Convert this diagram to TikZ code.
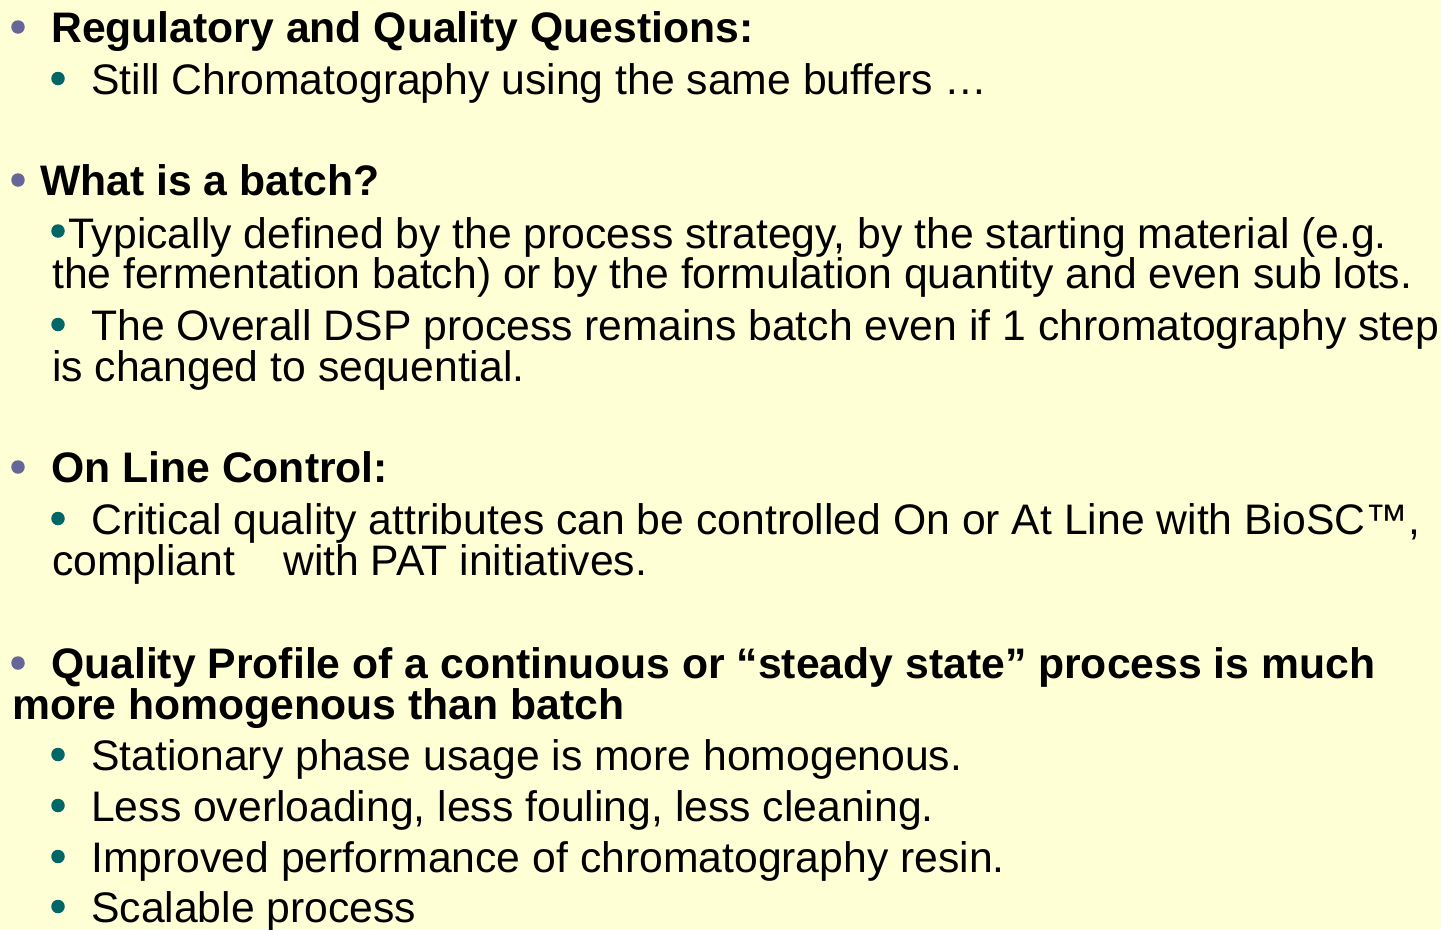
\documentclass[tikz,border=0pt]{standalone}
\usepackage{fontspec}
\setmainfont{Liberation Sans}
\definecolor{bg}{HTML}{FFFFD5}
\definecolor{lvlone}{HTML}{666699}
\definecolor{lvltwo}{HTML}{006666}
\begin{document}
\begin{tikzpicture}[x=1bp,y=-1bp,
  txt/.style={anchor=base west,inner sep=0pt,font=\fontsize{42.7bp}{48bp}\selectfont},
  head/.style={txt,font=\fontsize{42.7bp}{48bp}\selectfont\bfseries},
  dotone/.style={circle,fill=lvlone,inner sep=0pt,minimum size=13.5bp},
  dottwo/.style={circle,fill=lvltwo,inner sep=0pt,minimum size=13.5bp}]
\fill[bg] (0,0) rectangle (1441,929);
\useasboundingbox (0,0) rectangle (1441,929);
% Section 1
\node[dotone] (b1) at (18,27) {};
\node[head] (h1) at (51,42) {Regulatory and Quality Questions:};
\node[dottwo] (b11) at (58,78.5) {};
\node[txt] (t11) at (91,94) {Still Chromatography using the same buffers …};
% Section 2
\node[dotone] (b2) at (18,180) {};
\node[head] (h2) at (40,195) {What is a batch?};
\node[dottwo] (b21) at (58,231) {};
\node[txt] (t21) at (68,248) {Typically defined by the process strategy, by the starting material (e.g.};
\node[txt] (t21b) at (52,288) {the fermentation batch) or by the formulation quantity and even sub lots.};
\node[dottwo] (b22) at (58,324.5) {};
\node[txt] (t22) at (91,340) {The Overall DSP process remains batch even if 1 chromatography step};
\node[txt] (t22b) at (52,381) {is changed to sequential.};
% Section 3
\node[dotone] (b3) at (18,467) {};
\node[head] (h3) at (51,482) {On Line Control:};
\node[dottwo] (b31) at (58,518.5) {};
\node[txt] (t31) at (91,534) {Critical quality attributes can be controlled On or At Line with BioSC™,};
\node[txt] (t31b) at (52,575) {compliant};
\node[txt] (t31c) at (283,575) {with PAT initiatives.};
% Section 4
\node[dotone] (b4) at (18,663) {};
\node[head] (h4) at (51,678) {Quality Profile of a continuous or “steady state” process is much};
\node[head] (h4b) at (12,719) {more homogenous than batch};
\node[dottwo] (b41) at (58,754.5) {};
\node[txt] (t41) at (91,770) {Stationary phase usage is more homogenous.};
\node[dottwo] (b42) at (58,805.5) {};
\node[txt] (t42) at (91,821) {Less overloading, less fouling, less cleaning.};
\node[dottwo] (b43) at (58,856.5) {};
\node[txt] (t43) at (91,872) {Improved performance of chromatography resin.};
\node[dottwo] (b44) at (58,906.5) {};
\node[txt] (t44) at (91,922) {Scalable process};
\end{tikzpicture}
\end{document}
